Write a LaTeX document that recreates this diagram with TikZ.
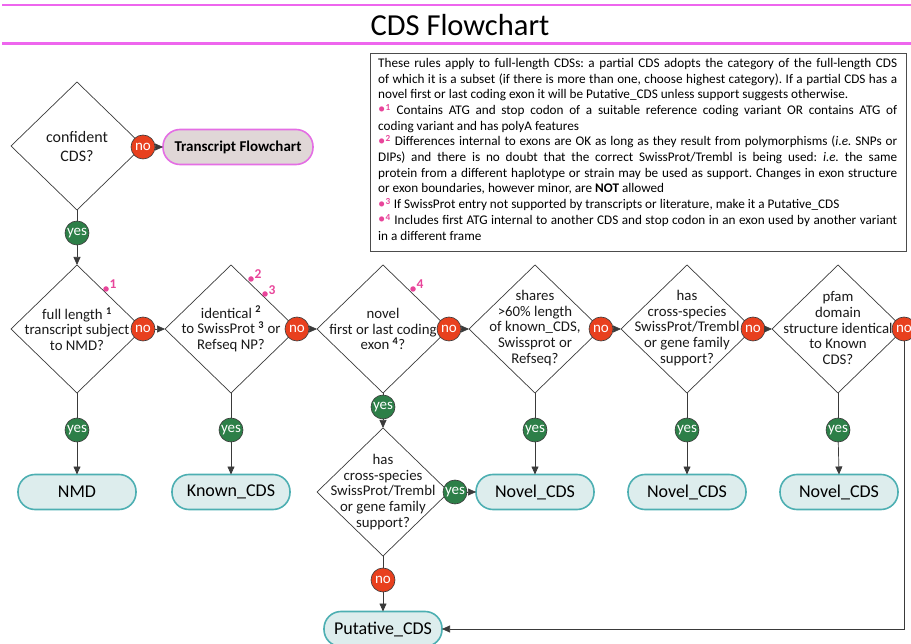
\documentclass[tikz,border=0pt]{standalone}
\usepackage{fontspec}
\setmainfont{Carlito}
\usetikzlibrary{shapes.geometric,arrows.meta}
\definecolor{mag}{HTML}{EE66EE}
\definecolor{fnpink}{HTML}{E8459A}
\definecolor{nored}{HTML}{E8401E}
\definecolor{yesgreen}{HTML}{2D7F48}
\definecolor{termfill}{HTML}{DDEDED}
\definecolor{termdraw}{HTML}{4DAFB2}
\definecolor{tffill}{HTML}{E0D7D7}
\definecolor{tfdraw}{HTML}{E46EE4}
\definecolor{lin}{HTML}{3A3A3A}
\newcommand{\fnm}[1]{{\color{fnpink}\raisebox{0.1ex}{\scalebox{1.1}{\textbullet}}\kern0.3pt\textsuperscript{\bfseries #1}}}
\newcommand{\sups}[1]{\textsuperscript{\bfseries #1}}
\frenchspacing
\begin{document}
\begin{tikzpicture}[x=1pt,y=-1pt,
  dia/.style={diamond, draw=lin, line width=0.7pt, minimum width=132, minimum height=128, inner sep=0pt, outer sep=0pt},
  dtext/.style={align=center, inner sep=0pt, font=\fontsize{14.8}{15.6}\selectfont, text=black!90},
  yesc/.style={circle, draw=lin, line width=0.6pt, fill=yesgreen, text=white, minimum size=24, inner sep=0pt, outer sep=0pt, font=\fontsize{15}{15}\selectfont},
  noc/.style={yesc, fill=nored},
  term/.style={rectangle, rounded corners=17, draw=termdraw, fill=termfill, line width=1.6pt, minimum width=118, minimum height=35, inner sep=0pt, outer sep=0pt, font=\fontsize{18}{18}\selectfont},
  conn/.style={draw=lin, line width=0.7pt},
  arr/.style={conn, -{Triangle[length=8pt,width=7pt]}},
  fndot/.style={circle, fill=fnpink, inner sep=0pt, minimum size=5.5},
  fnnum/.style={text=fnpink, inner sep=0pt, font=\bfseries\fontsize{13.5}{13.5}\selectfont}
]
\useasboundingbox (0,0) rectangle (911,644);
% header
\draw[mag, line width=2.5pt] (2,5) -- (911,5);
\draw[mag, line width=2.5pt] (2,43.5) -- (911,43.5);
\node[anchor=base, inner sep=0pt, font=\fontsize{30.5}{30.5}\selectfont] (title) at (460,36) {CDS Flowchart};
% notes box
\node[draw=black!70, line width=0.9pt, minimum width=536, minimum height=198, anchor=north west, inner sep=0pt] (box) at (370,53) {};
\node[anchor=north west, inner sep=0pt, text width=519, align=justify, font=\fontsize{13.2}{15.7}\selectfont] (boxtext) at (378,58) {\setlength{\parindent}{0pt}\frenchspacing%
These rules apply to full-length CDSs: a partial CDS adopts the category of the full-length CDS\linebreak
of which it is a subset (if there is more than one, choose highest category). If a partial CDS has a\linebreak
novel first or last coding exon it will be Putative\_CDS unless support suggests otherwise.\par
\fnm{1} Contains ATG and stop codon of a suitable reference coding variant OR contains ATG of\linebreak
coding variant and has polyA features\par
\fnm{2} Differences internal to exons are OK as long as they result from polymorphisms (\textit{i.e.} SNPs or\linebreak
DIPs) and there is no doubt that the correct SwissProt/Trembl is being used: \textit{i.e.} the same\linebreak
protein from a different haplotype or strain may be used as support. Changes in exon structure\linebreak
or exon boundaries, however minor, are \textbf{NOT} allowed\par
\fnm{3} If SwissProt entry not supported by transcripts or literature, make it a Putative\_CDS\par
\fnm{4} Includes first ATG internal to another CDS and stop codon in an exon used by another variant\linebreak
in a different frame};
% diamonds
\node[dia] (d1) at (77,146) {};
\node[dtext, font=\fontsize{16}{19}\selectfont] (d1t) at (77,147) {confident\\CDS?};
\node[dia] (d2) at (77,329) {};
\node[dtext] (d2t) at (77,329) {full length \sups{1}\\transcript subject\\to NMD?};
\node[dia] (d3) at (231,329) {};
\node[dtext] (d3t) at (231,329) {identical \sups{2}\\to SwissProt \sups{3} or\\Refseq NP?};
\node[dia] (d4) at (383,329) {};
\node[dtext] (d4t) at (383,329) {novel\\first or last coding\\exon \sups{4}?};
\node[dia] (d5) at (535,329) {};
\node[dtext] (d5t) at (535,328) {shares\\>60\% length\\of known\_CDS,\\Swissprot or\\Refseq?};
\node[dia] (d6) at (687,329) {};
\node[dtext] (d6t) at (687,328) {has\\cross-species\\SwissProt/Trembl\\or gene family\\support?};
\node[dia] (d8) at (838,329) {};
\node[dtext] (d8t) at (838,328) {pfam\\domain\\structure identical\\to Known\\CDS?};
\node[dia] (d7) at (383,492) {};
\node[dtext] (d7t) at (383,492) {has\\cross-species\\SwissProt/Trembl\\or gene family\\support?};
% footnote markers
\node[fndot] (m1d) at (106,289) {};
\node[fnnum] (m1) at (113,284) {1};
\node[fndot] (m2d) at (251,279) {};
\node[fnnum] (m2) at (258,274) {2};
\node[fndot] (m3d) at (265,294) {};
\node[fnnum] (m3) at (272,290) {3};
\node[fndot] (m4d) at (413,289) {};
\node[fnnum] (m4) at (420,284) {4};
% terminals
\node[term, draw=tfdraw, fill=tffill, minimum width=150, font=\bfseries\fontsize{15}{15}\selectfont] (tf) at (238,147) {Transcript Flowchart};
\node[term] (nmd) at (77,492) {NMD};
\node[term] (known) at (231,492) {Known\_CDS};
\node[term] (nov1) at (535,492) {Novel\_CDS};
\node[term] (nov2) at (687,492) {Novel\_CDS};
\node[term] (nov3) at (839,492) {Novel\_CDS};
\node[term] (put) at (383,629) {Putative\_CDS};
% yes / no circles
\node[noc] (n1) at (143,147) {no};
\node[yesc] (y1) at (77,233) {yes};
\node[noc] (n2) at (143,329) {no};
\node[noc] (n3) at (297,329) {no};
\node[noc] (n4) at (449,329) {no};
\node[noc] (n5) at (601,329) {no};
\node[noc] (n6) at (753,329) {no};
\node[noc] (n8) at (904,329) {no};
\node[yesc] (y2) at (77,430) {yes};
\node[yesc] (y3) at (231,430) {yes};
\node[yesc] (y4) at (383,407) {yes};
\node[yesc] (y5) at (535,430) {yes};
\node[yesc] (y6) at (687,430) {yes};
\node[yesc] (y8) at (838,430) {yes};
\node[yesc] (y7) at (455,492) {yes};
\node[noc] (n7) at (383,580) {no};
% connectors
\draw[conn] (d1.south) -- (y1);
\draw[arr] (y1) -- (d2.north);
\draw[arr] (n1) -- (tf.west);
\draw[arr] (n2) -- (d3.west);
\draw[arr] (n3) -- (d4.west);
\draw[arr] (n4) -- (d5.west);
\draw[arr] (n5) -- (d6.west);
\draw[arr] (n6) -- (d8.west);
\draw[conn] (d2.south) -- (y2);
\draw[arr] (y2) -- (nmd.north);
\draw[conn] (d3.south) -- (y3);
\draw[arr] (y3) -- (known.north);
\draw[conn] (d4.south) -- (y4);
\draw[arr] (y4) -- (d7.north);
\draw[conn] (d5.south) -- (y5);
\draw[arr] (y5) -- (nov1.north);
\draw[conn] (d6.south) -- (y6);
\draw[arr] (y6) -- (nov2.north);
\draw[conn] (d8.south) -- (y8);
\draw[arr] (y8) -- (nov3.north);
\draw[arr] (y7) -- (nov1.west);
\draw[conn] (d7.south) -- (n7);
\draw[arr] (n7) -- (put.north);
\draw[arr] (n8.south) |- (put.east);
\end{tikzpicture}
\end{document}
